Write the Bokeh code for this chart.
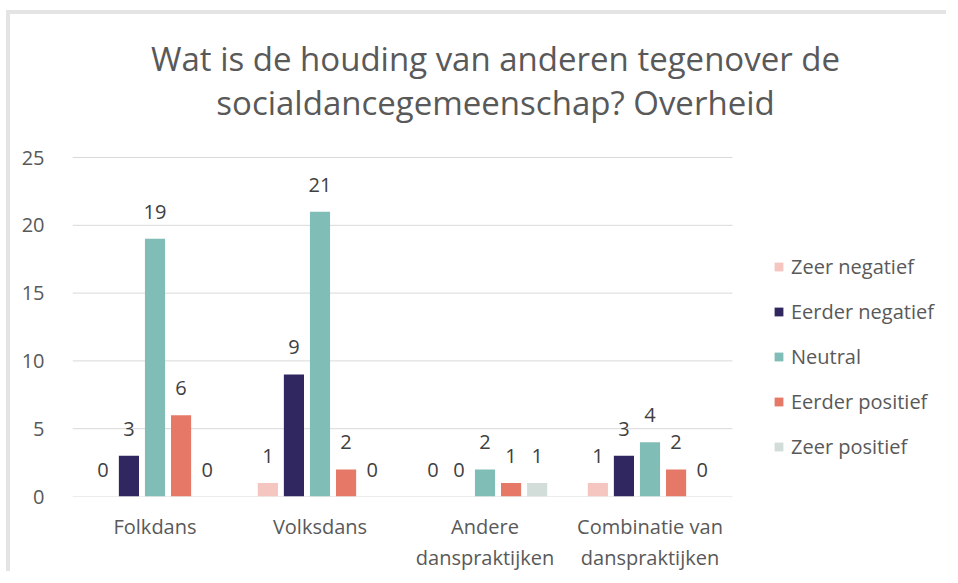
from bokeh.plotting import figure
from bokeh.models import ColumnDataSource, Legend, LegendItem, Label, Range1d, FixedTicker
from bokeh.transform import dodge
from bokeh.core.properties import value
from bokeh.embed import file_html
from bokeh.resources import INLINE

categories = ["Folkdans", "Volksdans", "Andere\ndanspraktijken", "Combinatie van\ndanspraktijken"]
series = ["Zeer negatief", "Eerder negatief", "Neutral", "Eerder positief", "Zeer positief"]
zeer_negatief = [0, 1, 0, 1]
eerder_negatief = [3, 9, 0, 3]
neutral = [19, 21, 2, 4]
eerder_positief = [6, 2, 1, 2]
zeer_positief = [0, 0, 1, 0]
colors = ["#F4C6BF", "#302660", "#80BDB6", "#E57866", "#D2DDD9"]
y_ticks = [0, 5, 10, 15, 20, 25]
title_lines = ["Wat is de houding van anderen tegenover de", "socialdancegemeenschap? Overheid"]

values = [zeer_negatief, eerder_negatief, neutral, eerder_positief, zeer_positief]
offsets = [-0.316, -0.158, 0.0, 0.158, 0.316]

FONT = "Open Sans"
FS = "20px"
W, H = 940, 561
n = len(categories)
cat_x = [i + 0.5 for i in range(n)]

# the frame extends right (legend) and up (title) beyond the category area
p = figure(width=W, height=H, x_range=Range1d(0, n + 1.2848), y_range=Range1d(0, 35.546),
           output_backend="svg", toolbar_location=None, title=None,
           min_border_left=62, min_border_right=6, min_border_top=0, min_border_bottom=79)
p.styles = {"border-top": "4px solid #e4e4e4", "border-left": "4px solid #e4e4e4",
            "margin-left": "6px", "margin-top": "10px"}
p.outline_line_color = None
p.background_fill_color = "white"

# horizontal gridlines spanning only the category area
p.segment(x0=[0] * len(y_ticks), x1=[n] * len(y_ticks), y0=y_ticks, y1=y_ticks,
          line_color="#d9d9d9", line_width=1)

data = {"x": cat_x}
for s, v in zip(series, values):
    data[s] = v
src = ColumnDataSource(data)

items = []
for s, off, col in zip(series, offsets, colors):
    r = p.vbar(x=dodge("x", off), top=s, width=0.122, source=src,
               fill_color=col, line_color=None)
    p.text(x=dodge("x", off), y=s, text=s, source=src,
           text_align="center", text_baseline="middle", y_offset=-27,
           text_font=value(FONT), text_font_size=FS, text_color="#404040")
    items.append(LegendItem(label=s, renderers=[r]))

p.yaxis.ticker = FixedTicker(ticks=y_ticks)
p.yaxis.axis_line_color = None
p.yaxis.major_tick_line_color = None
p.yaxis.minor_tick_line_color = None
p.yaxis.major_label_standoff = 22
p.yaxis.major_label_text_font = FONT
p.yaxis.major_label_text_font_size = FS
p.yaxis.major_label_text_color = "#595959"

p.xaxis.ticker = FixedTicker(ticks=cat_x)
p.xaxis.major_label_overrides = {x: c for x, c in zip(cat_x, categories)}
p.xaxis.axis_line_color = None
p.xaxis.major_tick_line_color = None
p.xaxis.minor_tick_line_color = None
p.xaxis.major_label_standoff = 10
p.xaxis.major_label_text_font = FONT
p.xaxis.major_label_text_font_size = FS
p.xaxis.major_label_text_color = "#595959"
p.xaxis.major_label_text_line_height = 1.15

p.xgrid.grid_line_color = None
p.ygrid.grid_line_color = None

legend = Legend(items=items, location=(701, 36), padding=0, spacing=18,
                glyph_width=11, glyph_height=11, label_height=24, label_standoff=7,
                label_text_font=FONT, label_text_font_size=FS, label_text_color="#595959",
                border_line_color=None, background_fill_alpha=0)
p.add_layout(legend, "center")

for t, yy in zip(title_lines, [438, 394]):
    p.add_layout(Label(x=423, y=yy, x_units="screen", y_units="screen", text=t,
                       text_align="center", text_baseline="middle",
                       text_font=FONT, text_font_size="33px", text_color="#595959"))

open("out.html", "w").write(file_html(p, INLINE))
